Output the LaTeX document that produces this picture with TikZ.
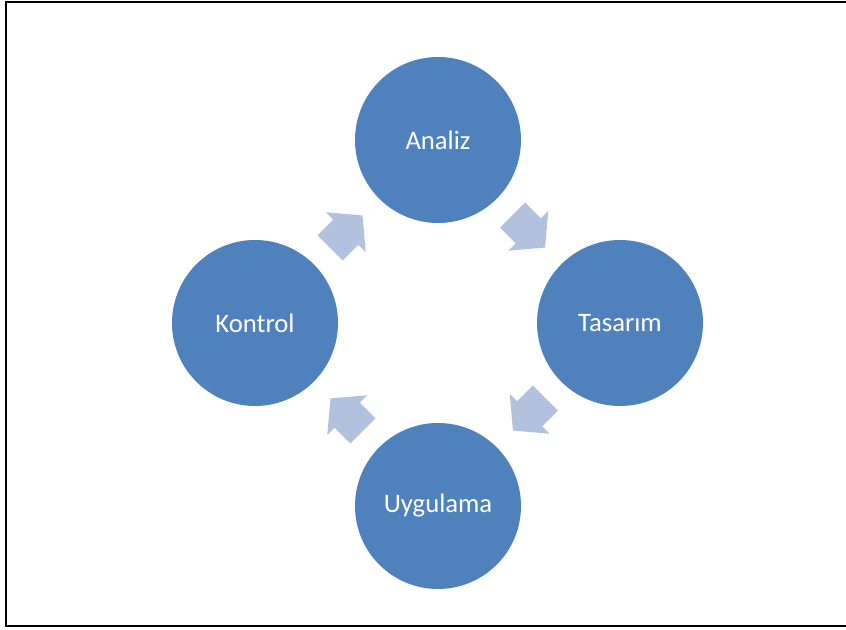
\documentclass[tikz,border=0pt]{standalone}
\usepackage{fontspec}
\setmainfont{Carlito}
\usetikzlibrary{shapes.arrows,calc}

\definecolor{phaseblue}{RGB}{79,129,189}
\definecolor{arrowblue}{RGB}{178,193,221}

\tikzset{
  phase/.style={circle, fill=phaseblue, minimum size=124.5pt, inner sep=0pt,
    text=white, font=\fontsize{20}{24}\selectfont},
  cyclearrow/.style={single arrow, fill=arrowblue, minimum height=34.5pt,
    minimum width=42pt, single arrow head extend=7.9pt,
    single arrow tip angle=100, inner xsep=0pt, inner ysep=13.1pt}
}

\begin{document}
\begin{tikzpicture}[x=0.75pt,y=-0.75pt]
    \useasboundingbox (0,0) rectangle (846,630);
    \draw[line width=1.5pt] (6,2) rectangle (849,626);
    \node[phase] (analiz) at (438,140) {Analiz};
    \node[phase] (tasarim) at (620,323) {Tasarım};
    \node[phase] (uygulama) at (438,506) {Uygulama};
    \node[phase] (kontrol) at (255,323) {Kontrol};
    \node[cyclearrow, rotate=-45] (ok1) at ($(analiz)!0.47!(tasarim)$) {};
    \node[cyclearrow, rotate=-135] (ok2) at ($(tasarim)!0.47!(uygulama)$) {};
    \node[cyclearrow, rotate=135] (ok3) at ($(uygulama)!0.47!(kontrol)$) {};
    \node[cyclearrow, rotate=45] (ok4) at ($(kontrol)!0.47!(analiz)$) {};
\end{tikzpicture}
\end{document}
